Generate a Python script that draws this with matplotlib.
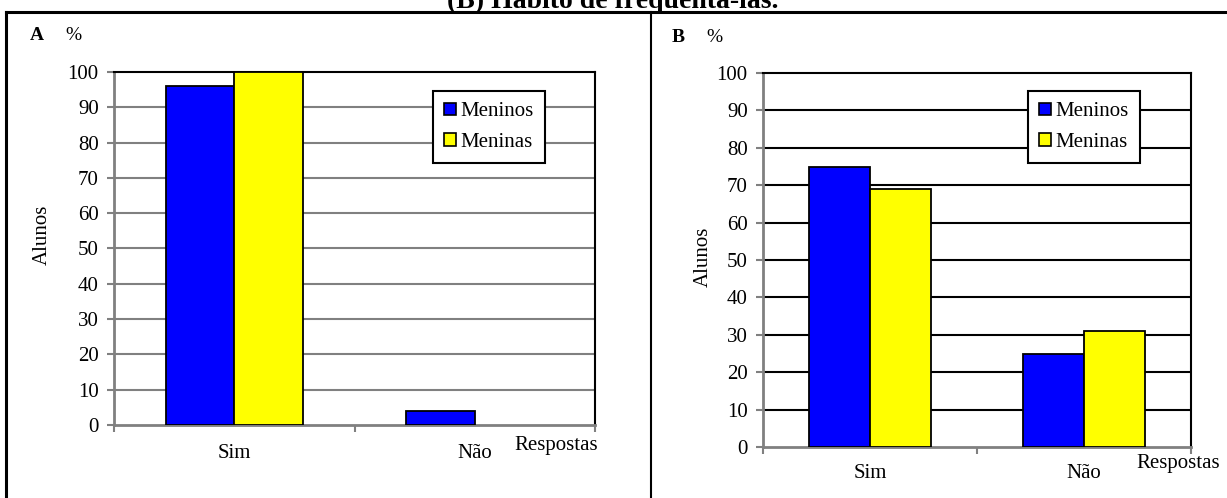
import matplotlib.pyplot as plt
from matplotlib.lines import Line2D

# ============================== Data ============================== #
categorias = ['Sim', 'Não']
series = ['Meninos', 'Meninas']
cores = ['#0000FF', '#FFFF00']

meninos_a = [96, 4]
meninas_a = [100, 0]
meninos_b = [75, 25]
meninas_b = [69, 31]

yticks = list(range(0, 101, 10))

W, H = 1227, 498
plt.rcParams['font.family'] = ['Liberation Serif', 'DejaVu Serif']
plt.rcParams['font.size'] = 15

fig = plt.figure(figsize=(W / 100, H / 100), dpi=100)


def px_box(x0, y0, x1, y1):
    # pixel box (top-left origin) -> figure fraction [l, b, w, h]
    return [x0 / W, 1 - y1 / H, (x1 - x0) / W, (y1 - y0) / H]


def fx(x):
    return x / W


def fy(y):
    return 1 - y / H


def painel(box, meninos, meninas, grid_color, grid_lw, leg_xy, letra_xy,
           alunos_xy, resp_xy, label_pad):
    ax = fig.add_axes(px_box(*box))
    x = range(len(categorias))
    w = 0.285
    for i, (vals, cor, nome) in enumerate(zip([meninos, meninas], cores, series)):
        pos = [xi - w / 2 if i == 0 else xi + w / 2 for xi in x]
        lws = [1.3 if v > 0 else 0 for v in vals]
        ax.bar(pos, vals, width=w, color=cor, edgecolor='black',
               linewidth=lws, label=nome, zorder=3)
    ax.set_xlim(-0.5, len(categorias) - 0.5)
    ax.set_ylim(0, 100)
    ax.set_yticks(yticks)
    for t in yticks[1:-1]:
        ax.axhline(t, color=grid_color, lw=grid_lw, zorder=1)
    ax.set_xticks(list(x))
    ax.set_xticklabels(categorias)
    ax.set_xticks([-0.5, 0.5, 1.5], minor=True)
    ax.tick_params(axis='x', which='major', length=0, pad=label_pad)
    ax.tick_params(axis='x', which='minor', length=5, color='#808080',
                   width=1.5, direction='out')
    ax.tick_params(axis='y', length=5, color='#808080', width=1.5,
                   direction='out', pad=6)
    for s in ['left', 'bottom']:
        ax.spines[s].set_color('#808080')
        ax.spines[s].set_linewidth(2)
    for s in ['top', 'right']:
        ax.spines[s].set_color('black')
        ax.spines[s].set_linewidth(1.5)

    leg = ax.legend(loc='upper left', bbox_to_anchor=(fx(leg_xy[0]), fy(leg_xy[1])),
                    bbox_transform=fig.transFigure, fancybox=False,
                    framealpha=1, edgecolor='black', handlelength=0.55,
                    handleheight=0.55, handletextpad=0.2, labelspacing=0.55,
                    borderpad=0.55, borderaxespad=0)
    leg.get_frame().set_linewidth(1.5)
    for h in leg.legend_handles:
        h.set_linewidth(1.2)

    fig.text(fx(letra_xy[0]), fy(letra_xy[1]), letra_xy[2], fontsize=14,
             fontweight='bold', ha='center', va='center')
    fig.text(fx(letra_xy[0] + 36), fy(letra_xy[1]), '%', fontsize=14,
             ha='center', va='center')
    fig.text(fx(alunos_xy[0]), fy(alunos_xy[1]), 'Alunos', rotation=90,
             ha='center', va='center')
    fig.text(fx(resp_xy[0]), fy(resp_xy[1]), 'Respostas', ha='center',
             va='center')
    return ax


painel((114, 72, 595, 425), meninos_a, meninas_a, '#808080', 1.5,
       (433, 91), (37, 36, 'A'), (42, 235), (556, 445), 14)
painel((763, 73, 1191, 447), meninos_b, meninas_b, 'black', 1.5,
       (1028, 91), (678, 37, 'B'), (703, 257), (1178, 463), 12)

# moldura
fig.add_artist(Line2D([fx(6), fx(1230)], [fy(12), fy(12)], color='black', lw=2.2))
fig.add_artist(Line2D([fx(6), fx(6)], [fy(12), fy(500)], color='black', lw=2.2))
fig.add_artist(Line2D([fx(651), fx(651)], [fy(12), fy(500)], color='black', lw=1.5))

fig.text(fx(613), fy(8), '(B) Hábito de frequentá-las.', fontsize=20,
         fontweight='bold', ha='center', va='baseline')

fig.savefig('out.png', dpi=100)
